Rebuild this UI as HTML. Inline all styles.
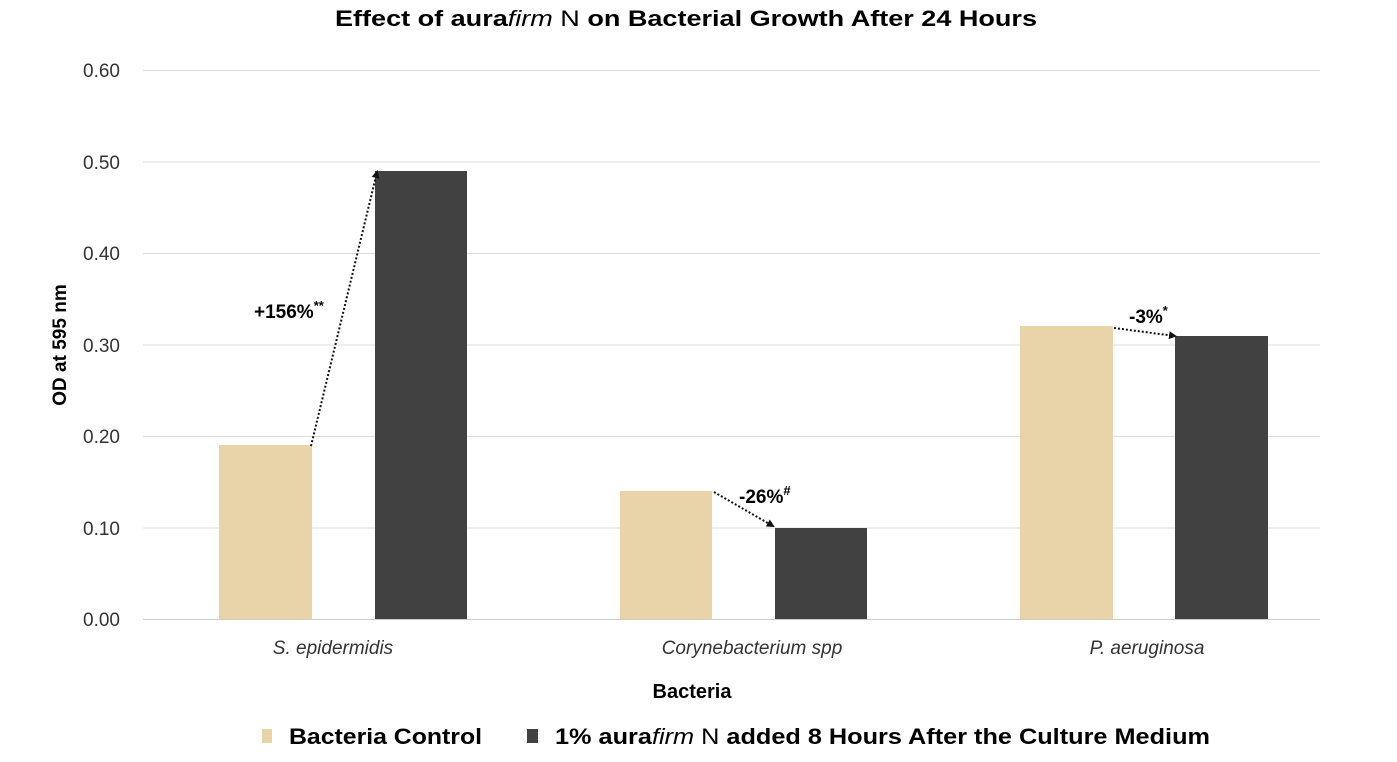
<!DOCTYPE html>
<html><head><style>body{margin:0;background:#fff}svg{display:block}text{font-family:"Liberation Sans",sans-serif}</style></head>
<body>
<svg width="1397" height="762" viewBox="0 0 1397 762" xmlns="http://www.w3.org/2000/svg">
<defs><marker id="ar" markerWidth="8" markerHeight="8" refX="6" refY="4" orient="auto" markerUnits="userSpaceOnUse"><path d="M0,0 L8,4 L0,8 z" fill="#111"/></marker></defs>
<text x="686" y="26" text-anchor="middle" font-size="22" font-weight="bold" textLength="702" lengthAdjust="spacingAndGlyphs">Effect of aura<tspan font-style="italic" font-weight="normal">firm</tspan><tspan font-weight="normal"> N</tspan> on Bacterial Growth After 24 Hours</text>
<g stroke="#ddd" stroke-width="1">
<line x1="143" y1="70.5" x2="1320" y2="70.5"/><line x1="143" y1="162" x2="1320" y2="162"/><line x1="143" y1="253.5" x2="1320" y2="253.5"/><line x1="143" y1="345" x2="1320" y2="345"/><line x1="143" y1="436.5" x2="1320" y2="436.5"/><line x1="143" y1="528" x2="1320" y2="528"/><line x1="143" y1="619.5" x2="1320" y2="619.5" stroke="#ccc"/>
</g>
<g font-size="19" fill="#333" text-anchor="end">
<text x="120" y="77">0.60</text><text x="120" y="169">0.50</text><text x="120" y="260">0.40</text><text x="120" y="352">0.30</text><text x="120" y="443">0.20</text><text x="120" y="535">0.10</text><text x="120" y="626">0.00</text>
</g>
<text transform="translate(66,345) rotate(-90)" text-anchor="middle" font-size="19" font-weight="bold">OD at 595 nm</text>
<rect x="219" y="445" width="93" height="174" fill="#e8d4a8"/>
<rect x="375" y="171" width="92" height="448" fill="#414141"/>
<rect x="620" y="491" width="92" height="128" fill="#e8d4a8"/>
<rect x="775" y="528" width="92" height="91" fill="#414141"/>
<rect x="1020" y="326" width="93" height="293" fill="#e8d4a8"/>
<rect x="1175" y="336" width="93" height="283" fill="#414141"/>
<g stroke="#111" stroke-width="2" stroke-dasharray="2,2" fill="none" marker-end="url(#ar)">
<line x1="311" y1="446" x2="377" y2="172"/>
<line x1="714" y1="492" x2="773" y2="526"/>
<line x1="1114" y1="328" x2="1175" y2="336"/>
</g>
<g font-size="19" font-weight="bold">
<text x="254" y="318">+156%<tspan font-size="13" dy="-8">**</tspan></text>
<text x="739" y="503">-26%<tspan font-size="13" dy="-8">#</tspan></text>
<text x="1129" y="323">-3%<tspan font-size="13" dy="-8">*</tspan></text>
</g>
<g font-size="19" font-style="italic" fill="#333" text-anchor="middle">
<text x="333" y="654">S. epidermidis</text><text x="752" y="654">Corynebacterium spp</text><text x="1147" y="654">P. aeruginosa</text>
</g>
<text x="692" y="698" text-anchor="middle" font-size="20" font-weight="bold">Bacteria</text>
<rect x="262" y="729" width="10" height="14" fill="#e8d4a8"/>
<rect x="527" y="729" width="11" height="14" fill="#414141"/>
<g font-size="22" font-weight="bold">
<text x="289" y="744" textLength="193" lengthAdjust="spacingAndGlyphs">Bacteria Control</text>
<text x="555" y="744" textLength="655" lengthAdjust="spacingAndGlyphs">1% aura<tspan font-style="italic" font-weight="normal">firm</tspan><tspan font-weight="normal"> N</tspan> added 8 Hours After the Culture Medium</text>
</g>
</svg>
</body></html>
